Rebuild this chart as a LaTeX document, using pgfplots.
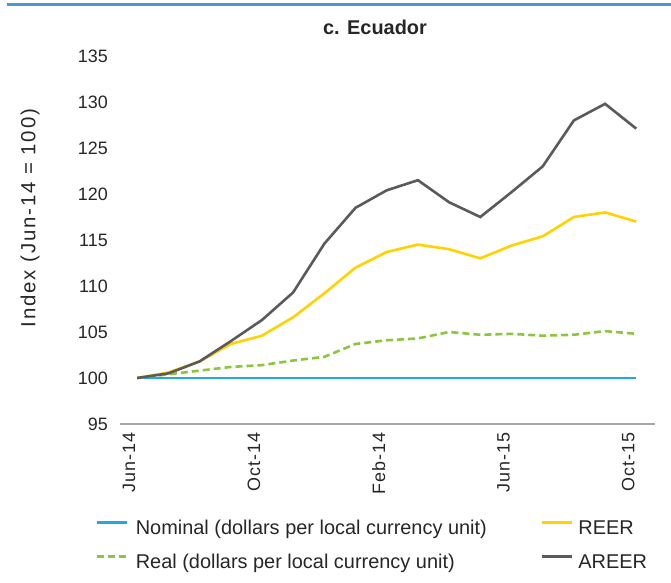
\documentclass[border=0pt]{standalone}
\usepackage{fontspec}
\setmainfont{Liberation Sans}
\usepackage{pgfplots}
\pgfplotsset{compat=1.18}
\definecolor{topbar}{HTML}{4A98D3}
\definecolor{nomblue}{HTML}{23A7E0}
\definecolor{reeryel}{HTML}{FFD200}
\definecolor{realgrn}{HTML}{8CC63F}
\definecolor{areergray}{HTML}{5A5A5A}
\definecolor{axgray}{HTML}{A6A6A6}
\definecolor{txt}{HTML}{262626}

\begin{document}
\begin{tikzpicture}
\path[use as bounding box] (0,0) rectangle (671bp,583bp);
\draw[topbar, line width=3bp] (7bp,578bp) -- (671bp,578bp);
\node[txt, font=\fontsize{20}{24}\selectfont\bfseries] at (375bp,556bp) {c. Ecuador};
\node[txt, rotate=90, font=\fontsize{20.5}{24}\selectfont\addfontfeatures{LetterSpace=9}] at (30bp,365bp) {Index (Jun-14 = 100)};
\begin{axis}[
  anchor=south west, at={(120bp,159bp)},
  scale only axis, width=535bp, height=368bp,
  xmin=-0.55, xmax=16.6, ymin=95, ymax=135,
  ytick={95,100,...,135},
  xtick={0,4,8,12,16},
  xticklabels={Jun-14,Oct-14,Feb-14,Jun-15,Oct-15},
  axis lines=left,
  x axis line style={-, draw=axgray, line width=1.6bp},
  y axis line style={draw=none},
  major tick length=0pt,
  /pgf/number format/assume math mode=true,
  ticklabel style={txt, font=\fontsize{18}{21}\selectfont},
  yticklabel style={inner sep=0pt, xshift=-12bp},
  xticklabel style={rotate=90, anchor=east, inner sep=0pt, xshift=-8bp, yshift=8bp,
    font=\fontsize{18}{21}\selectfont\addfontfeatures{LetterSpace=6}},
  clip=false,
  legend columns=2,
  legend cell align=left,
  legend style={
    at={(-0.0467,-0.262)}, anchor=north west,
    draw=none, fill=none, inner sep=0pt,
    font=\fontsize{20}{24}\selectfont, text=txt,
    nodes={inner sep=0pt, text height=14bp, text depth=4bp},
    row sep=16bp,
    /tikz/column 1/.style={column sep=8bp},
    /tikz/column 2/.style={column sep=54bp},
    /tikz/column 3/.style={column sep=5bp},
  },
  legend image code/.code={\draw[#1] (0bp,7bp) -- (30bp,7bp);},
]
\addplot[nomblue, line width=2.6bp] coordinates {
  (0,100) (1,100) (2,100) (3,100) (4,100) (5,100) (6,100) (7,100) (8,100)
  (9,100) (10,100) (11,100) (12,100) (13,100) (14,100) (15,100) (16,100)};
\addlegendentry{Nominal (dollars per local currency unit)}
\addplot[reeryel, line width=2.6bp] coordinates {
  (0,100) (1,100.6) (2,101.8) (3,103.7) (4,104.6) (5,106.6) (6,109.2) (7,112.0)
  (8,113.7) (9,114.5) (10,114.0) (11,113.0) (12,114.4) (13,115.4) (14,117.5)
  (15,118.0) (16,117.0)};
\addlegendentry{REER}
\addplot[realgrn, line width=2.6bp, dash pattern=on 7bp off 4bp] coordinates {
  (0,100) (1,100.4) (2,100.8) (3,101.2) (4,101.4) (5,101.9) (6,102.3) (7,103.7)
  (8,104.1) (9,104.3) (10,105.0) (11,104.7) (12,104.8) (13,104.6) (14,104.7)
  (15,105.1) (16,104.8)};
\addlegendentry{Real (dollars per local currency unit)}
\addplot[areergray, line width=2.6bp] coordinates {
  (0,100) (1,100.5) (2,101.8) (3,104.0) (4,106.3) (5,109.3) (6,114.6) (7,118.5)
  (8,120.4) (9,121.5) (10,119.1) (11,117.5) (12,120.2) (13,123.0) (14,128.0)
  (15,129.8) (16,127.1)};
\addlegendentry{AREER}
\end{axis}
\end{tikzpicture}
\end{document}
